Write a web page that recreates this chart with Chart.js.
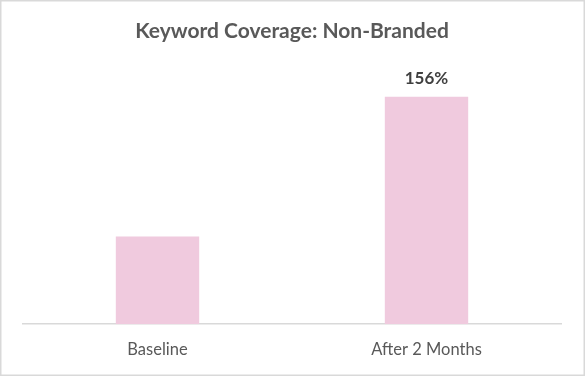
<!DOCTYPE html>
<html>
<head>
<meta charset="utf-8">
<script src="https://cdn.jsdelivr.net/npm/chart.js@4"></script>
<style>
  html, body { margin: 0; padding: 0; background: #fff; }
  #wrap { width: 585px; height: 376px; position: relative; }
</style>
</head>
<body>
<div id="wrap"><canvas id="chart" width="585" height="376"></canvas></div>
<script>
const categories = ['Baseline', 'After 2 Months'];
const coverage = [88, 228];
const barLabels = ['', '156%'];

// draws the percent label above each bar + the outer frame
const extras = {
  id: 'extras',
  afterDatasetsDraw(chart) {
    const c = chart.ctx;
    const meta = chart.getDatasetMeta(0);
    c.save();
    c.font = 'bold 17px Lato';
    c.fillStyle = '#404040';
    c.textAlign = 'center';
    c.textBaseline = 'bottom';
    meta.data.forEach((bar, i) => {
      if (barLabels[i]) c.fillText(barLabels[i], bar.x, bar.y - 10);
    });
    c.restore();
  },
  afterDraw(chart) {
    const c = chart.ctx;
    c.save();
    c.strokeStyle = '#D9D9D9';
    c.lineWidth = 1.5;
    c.strokeRect(0.75, 0.75, chart.width - 1.5, chart.height - 1.5);
    c.restore();
  }
};

new Chart(document.getElementById('chart'), {
  type: 'bar',
  data: {
    labels: categories,
    datasets: [{
      data: coverage,
      backgroundColor: '#F0CADE',
      barPercentage: 0.31,
      categoryPercentage: 1
    }]
  },
  options: {
    responsive: false,
    animation: false,
    layout: { padding: { left: 23, right: 24, top: 0, bottom: 0 } },
    plugins: {
      legend: { display: false },
      tooltip: { enabled: false },
      title: {
        display: true,
        text: 'Keyword Coverage: Non-Branded',
        color: '#595959',
        font: { family: 'Lato', size: 21, weight: 'bold' },
        padding: { top: 19, bottom: 16.6 }
      }
    },
    scales: {
      x: {
        grid: { display: false, drawTicks: false },
        border: { display: true, color: '#D9D9D9', width: 1.5 },
        ticks: { color: '#595959', font: { family: 'Lato', size: 16.5 }, padding: 16 }
      },
      y: {
        display: false,
        min: 0,
        max: 264
      }
    }
  },
  plugins: [extras]
});
</script>
</body>
</html>
